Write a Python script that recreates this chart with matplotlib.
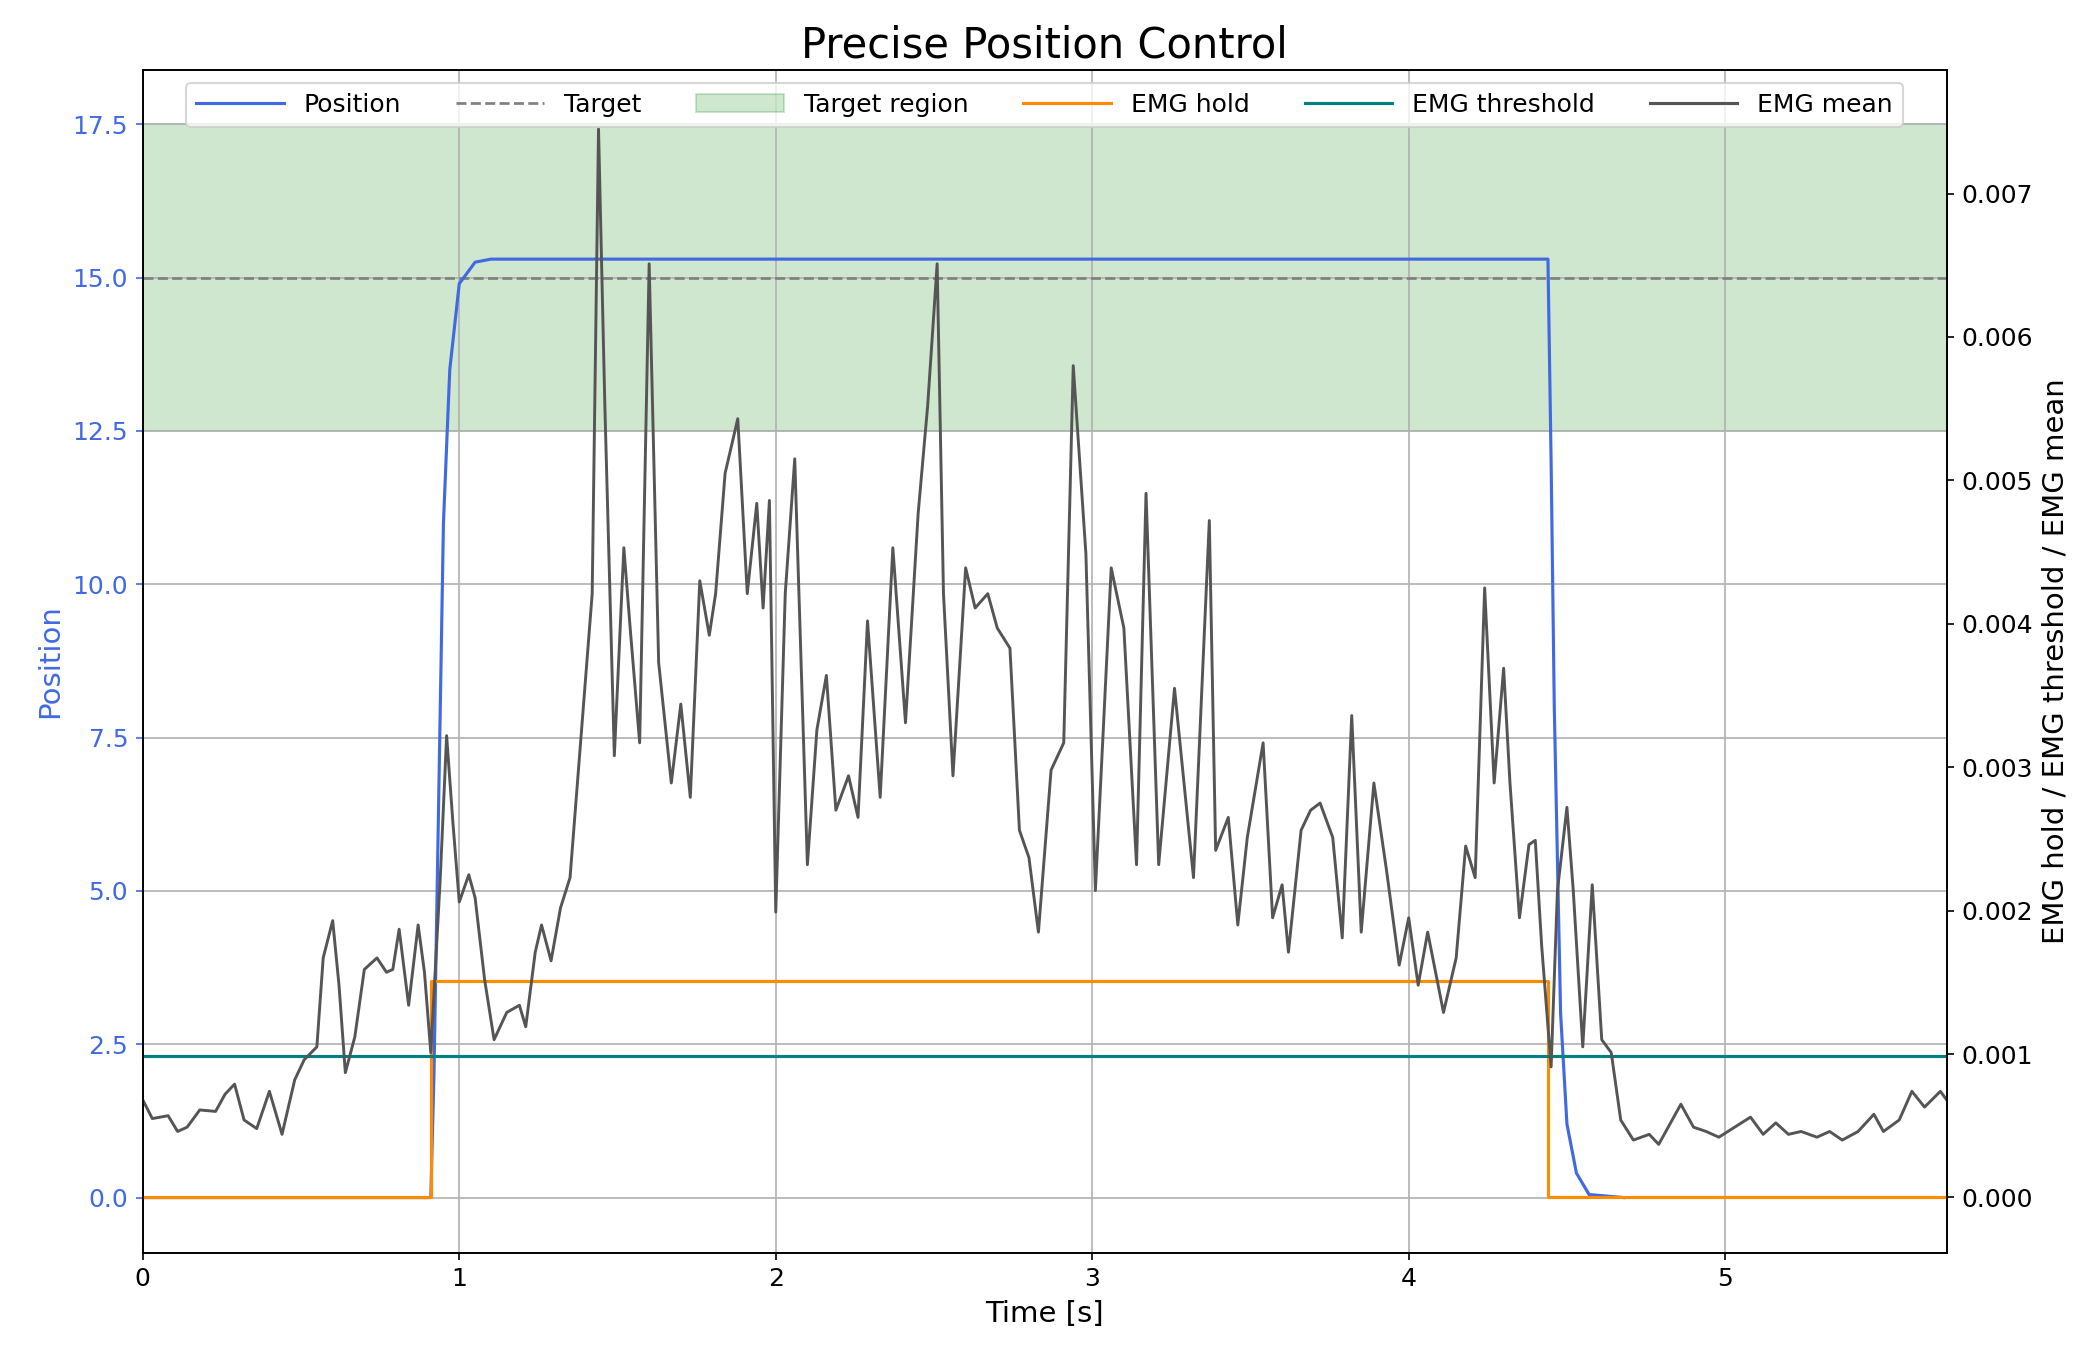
import numpy as np
import matplotlib.pyplot as plt
from matplotlib.patches import Patch
from matplotlib.lines import Line2D

# position trace (s, units)
pos_t = [0, 0.91, 0.92, 0.93, 0.95, 0.97, 1.0, 1.05, 1.1, 4.44, 4.45, 4.46, 4.48, 4.5, 4.53, 4.57, 4.68]
pos_v = [0, 0, 2.0, 5.0, 11.0, 13.5, 14.9, 15.25, 15.3, 15.3, 12.0, 8.0, 3.0, 1.2, 0.4, 0.05, 0]

target = 15.0
target_lo, target_hi = 12.5, 17.5

# EMG hold (step) and threshold
hold_t = [0, 0.91, 0.91, 4.44, 4.44, 5.70]
hold_v = [0, 0, 0.00151, 0.00151, 0, 0]
emg_threshold = 0.000985

# EMG mean, values in units of 1e-3
emg_t = [0, 0.03, 0.08, 0.11, 0.14, 0.18, 0.23, 0.26, 0.29, 0.32, 0.36, 0.40, 0.44, 0.48, 0.51, 0.55,
         0.57, 0.60, 0.62, 0.64, 0.67, 0.70, 0.74, 0.77, 0.79, 0.81, 0.84, 0.87, 0.89, 0.91, 0.94, 0.96,
         0.98, 1.00, 1.03, 1.05, 1.08, 1.11, 1.15, 1.19, 1.21, 1.24, 1.26, 1.29, 1.32, 1.35, 1.38, 1.42,
         1.44, 1.46, 1.49, 1.52, 1.54, 1.57, 1.60, 1.63, 1.67, 1.70, 1.73, 1.76, 1.79, 1.81, 1.84, 1.88,
         1.91, 1.94, 1.96, 1.98, 2.00, 2.03, 2.06, 2.10, 2.13, 2.16, 2.19, 2.23, 2.26, 2.29, 2.33, 2.37,
         2.41, 2.45, 2.48, 2.51, 2.53, 2.56, 2.60, 2.63, 2.67, 2.70, 2.74, 2.77, 2.80, 2.83, 2.87, 2.91,
         2.94, 2.98, 3.01, 3.06, 3.10, 3.14, 3.17, 3.21, 3.26, 3.29, 3.32, 3.37, 3.39, 3.43, 3.46, 3.49,
         3.54, 3.57, 3.60, 3.62, 3.66, 3.69, 3.72, 3.76, 3.79, 3.82, 3.85, 3.89, 3.93, 3.97, 4.00, 4.03,
         4.06, 4.11, 4.15, 4.18, 4.21, 4.24, 4.27, 4.30, 4.32, 4.35, 4.38, 4.40, 4.42, 4.45, 4.47, 4.50,
         4.52, 4.55, 4.58, 4.61, 4.64, 4.67, 4.71, 4.76, 4.79, 4.82, 4.86, 4.90, 4.94, 4.98, 5.03, 5.08,
         5.12, 5.16, 5.20, 5.24, 5.29, 5.33, 5.37, 5.42, 5.47, 5.50, 5.55, 5.59, 5.63, 5.68, 5.70]
emg_v = [0.68, 0.55, 0.57, 0.46, 0.49, 0.61, 0.60, 0.72, 0.79, 0.54, 0.48, 0.74, 0.44, 0.82, 0.96, 1.05,
         1.67, 1.93, 1.48, 0.87, 1.12, 1.59, 1.67, 1.57, 1.59, 1.87, 1.34, 1.90, 1.57, 1.01, 2.23, 3.22,
         2.61, 2.06, 2.25, 2.09, 1.52, 1.10, 1.29, 1.34, 1.19, 1.71, 1.90, 1.65, 2.02, 2.23, 3.08, 4.21,
         7.45, 5.52, 3.08, 4.53, 3.97, 3.17, 6.51, 3.73, 2.89, 3.44, 2.79, 4.30, 3.92, 4.21, 5.05, 5.43,
         4.21, 4.84, 4.11, 4.86, 1.99, 4.21, 5.15, 2.32, 3.26, 3.64, 2.70, 2.94, 2.65, 4.02, 2.79, 4.53,
         3.31, 4.77, 5.52, 6.51, 4.21, 2.94, 4.39, 4.11, 4.21, 3.97, 3.83, 2.56, 2.37, 1.85, 2.98, 3.17,
         5.80, 4.49, 2.14, 4.39, 3.97, 2.32, 4.91, 2.32, 3.55, 2.89, 2.23, 4.72, 2.42, 2.65, 1.90, 2.51,
         3.17, 1.95, 2.18, 1.71, 2.56, 2.70, 2.75, 2.51, 1.81, 3.36, 1.85, 2.89, 2.28, 1.62, 1.95, 1.48,
         1.85, 1.29, 1.67, 2.45, 2.23, 4.25, 2.89, 3.69, 2.89, 1.95, 2.46, 2.49, 1.76, 0.91, 2.14, 2.72,
         2.14, 1.05, 2.18, 1.10, 1.01, 0.54, 0.40, 0.44, 0.37, 0.49, 0.65, 0.49, 0.46, 0.42, 0.49, 0.56,
         0.44, 0.52, 0.44, 0.46, 0.42, 0.46, 0.40, 0.46, 0.58, 0.46, 0.54, 0.74, 0.63, 0.74, 0.68]

pos_color = 'royalblue'

fig, ax1 = plt.subplots(figsize=(14, 9), dpi=150)
ax1.axhspan(target_lo, target_hi, color='green', alpha=0.19, zorder=0)
ax1.axhline(target, color='gray', ls='--', lw=1.3)
ax1.plot(pos_t, pos_v, color=pos_color, lw=1.5, zorder=5)
ax1.set_xlim(0, 5.70)
ax1.set_ylim(-0.9, 18.38)
ax1.set_xlabel('Time [s]', fontsize=14)
ax1.set_ylabel('Position', color=pos_color, fontsize=14)
ax1.tick_params(axis='y', colors=pos_color, labelsize=12)
ax1.tick_params(axis='x', labelsize=12)
ax1.grid(True, color='#b0b0b0', lw=0.8)

ax2 = ax1.twinx()
ax2.plot(hold_t, hold_v, color='darkorange', lw=1.5)
ax2.axhline(emg_threshold, color='teal', lw=1.5)
ax2.plot(emg_t, np.array(emg_v) * 1e-3, color='#555555', lw=1.4)
ax2.set_ylim(-0.000386, 0.00786)
ax2.set_ylabel('EMG hold / EMG threshold / EMG mean', fontsize=14)
ax2.tick_params(axis='y', labelsize=12)

handles = [Line2D([], [], color=pos_color, lw=1.5),
           Line2D([], [], color='gray', ls='--', lw=1.3),
           Patch(facecolor='green', alpha=0.19, edgecolor='green'),
           Line2D([], [], color='darkorange', lw=1.5),
           Line2D([], [], color='teal', lw=1.5),
           Line2D([], [], color='#555555', lw=1.5)]
labels = ['Position', 'Target', 'Target region', 'EMG hold', 'EMG threshold', 'EMG mean']
ax2.legend(handles, labels, loc='upper center', ncol=6, fontsize=12,
           bbox_to_anchor=(0.5, 1.0), handlelength=3.5, columnspacing=2.2)

ax1.set_title('Precise Position Control', fontsize=20)
fig.subplots_adjust(left=0.068, right=0.927, bottom=0.072, top=0.948)
fig.savefig('out.png')
